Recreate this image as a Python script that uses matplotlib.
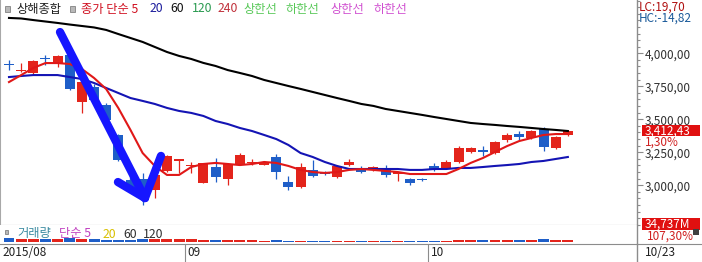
import numpy as np
import matplotlib
matplotlib.use("Agg")
import matplotlib.pyplot as plt
from matplotlib.patches import Rectangle
from matplotlib.lines import Line2D
from matplotlib.ticker import MultipleLocator

plt.rcParams['font.family'] = ['Noto Sans CJK KR', 'DejaVu Sans']

# 상해종합 일봉 (2015/08/11 ~ 2015/10/23)
dates = ["2015/08/11", "2015/08/12", "2015/08/13", "2015/08/14", "2015/08/17",
         "2015/08/18", "2015/08/19", "2015/08/20", "2015/08/21", "2015/08/24",
         "2015/08/25", "2015/08/26", "2015/08/27", "2015/08/28", "2015/08/31",
         "2015/09/01", "2015/09/02", "2015/09/07", "2015/09/08", "2015/09/09",
         "2015/09/10", "2015/09/11", "2015/09/14", "2015/09/15", "2015/09/16",
         "2015/09/17", "2015/09/18", "2015/09/21", "2015/09/22", "2015/09/23",
         "2015/09/24", "2015/09/25", "2015/09/28", "2015/09/29", "2015/09/30",
         "2015/10/08", "2015/10/09", "2015/10/12", "2015/10/13", "2015/10/14",
         "2015/10/15", "2015/10/16", "2015/10/19", "2015/10/20", "2015/10/21",
         "2015/10/22", "2015/10/23"]
opens = [3915, 3866, 3850, 3960, 3919, 3987, 3630, 3744, 3608, 3380,
         3040, 3047, 2965, 3106, 3187, 3145, 3020, 3137, 3045, 3160,
         3165, 3155, 3213, 3025, 2985, 3115, 3092, 3060, 3152, 3128,
         3115, 3130, 3088, 3045, 3042, 3145, 3130, 3175, 3250, 3266,
         3243, 3342, 3388, 3357, 3425, 3281, 3380]
highs = [3950, 3926, 3950, 3987, 3990, 4000, 3800, 3770, 3625, 3390,
         3137, 3092, 3085, 3232, 3198, 3175, 3172, 3205, 3165, 3243,
         3195, 3180, 3240, 3070, 3165, 3190, 3110, 3150, 3200, 3145,
         3145, 3150, 3100, 3055, 3055, 3165, 3190, 3300, 3290, 3295,
         3335, 3395, 3410, 3420, 3440, 3372, 3420]
lows = [3873, 3862, 3835, 3911, 3896, 3720, 3545, 3640, 3470, 3180,
        2952, 2851, 2906, 3100, 3090, 3090, 3015, 3025, 3000, 3155,
        3150, 3150, 3050, 2965, 2980, 3060, 3075, 3055, 3148, 3095,
        3110, 3065, 3030, 3005, 3030, 3105, 3125, 3170, 3245, 3225,
        3240, 3330, 3345, 3350, 3260, 3278, 3370]
closes = [3910, 3872, 3941, 3957, 3980, 3729, 3782, 3645, 3494, 3190,
          2965, 2927, 3080, 3220, 3191, 3150, 3165, 3062, 3160, 3228,
          3170, 3170, 3100, 2990, 3137, 3068, 3088, 3145, 3175, 3102,
          3137, 3076, 3092, 3015, 3038, 3114, 3175, 3281, 3281, 3250,
          3327, 3380, 3368, 3410, 3289, 3365, 3412.43]
volumes = [56000, 50000, 44000, 51000, 47000, 53000, 46000, 38000, 37000, 35000,
           33000, 42000, 39000, 45000, 40000, 38000, 35000, 24000, 24000, 30000,
           24000, 20000, 27000, 22000, 22000, 22000, 18000, 18000, 21000, 19000,
           16000, 17000, 14000, 13000, 12000, 22000, 23000, 33000, 28000, 28000,
           29000, 36000, 37000, 33000, 46000, 32374, 34737]
ma5 = [3782, 3835, 3889, 3926, 3926, 3919, 3881, 3813, 3729, 3585,
       3419, 3244, 3146, 3078, 3078, 3138, 3161, 3169, 3161, 3153,
       3161, 3176, 3169, 3146, 3116, 3100, 3093, 3100, 3116, 3123,
       3116, 3108, 3100, 3085, 3085, 3085, 3085, 3123, 3169, 3206,
       3252, 3297, 3335, 3358, 3381, 3388, 3388]
ma20 = [3820, 3828, 3835, 3835, 3835, 3820, 3805, 3775, 3737, 3699,
        3661, 3639, 3616, 3586, 3563, 3548, 3525, 3487, 3464, 3434,
        3411, 3381, 3350, 3305, 3244, 3214, 3176, 3146, 3123, 3123,
        3123, 3123, 3123, 3116, 3116, 3123, 3123, 3131, 3131, 3138,
        3146, 3153, 3161, 3176, 3184, 3199, 3214]
ma60 = [4268, 4264, 4252, 4241, 4230, 4218, 4207, 4196, 4177, 4146,
        4116, 4086, 4048, 4010, 3980, 3957, 3927, 3904, 3873, 3851,
        3828, 3798, 3775, 3752, 3730, 3707, 3684, 3661, 3639, 3616,
        3601, 3578, 3563, 3548, 3533, 3517, 3502, 3487, 3472, 3464,
        3457, 3449, 3442, 3434, 3426, 3419, 3411]
change_pct = 1.30
vol_change_pct = 107.30
lc_value, hc_value = 19.70, -14.82
yticks = [3000, 3250, 3500, 3750, 4000]

# 손으로 그린 화살표 (봉 번호, 지수)
arrow_shaft = [(4.2, 4161), (11.19, 2903)]
arrow_left = [(8.97, 3024), (11.19, 2903)]
arrow_right = [(12.51, 3222), (11.19, 2903)]

RED = '#e3241b'
BLUE = '#1e5ec8'
GRAY = '#8c8c8c'

W, H = 702, 262
fig = plt.figure(figsize=(W / 100, H / 100), dpi=100)


def fx(px):
    return px / W


def fy(py):
    return 1 - py / H


ax = fig.add_axes([0, fy(225), fx(637), 225 / H])
axv = fig.add_axes([0, fy(244), fx(637), 19 / H])
axl = fig.add_axes([0, 0, fx(637), 18 / H])

xlim = (-0.74, 51.69)
for a in (ax, axv, axl):
    a.set_xlim(*xlim)
    a.set_xticks([])
    for s in a.spines.values():
        s.set_visible(False)
    a.spines['right'].set_visible(True)
    a.spines['right'].set_color(GRAY)
    a.spines['right'].set_linewidth(1)

ax.set_ylim(2698.5, 4404)
ax.spines['left'].set_visible(True)
ax.spines['left'].set_color('#a8a8a8')
ax.spines['left'].set_linewidth(1.5)
ax.spines['bottom'].set_visible(True)
ax.spines['bottom'].set_color(GRAY)
ax.spines['bottom'].set_linewidth(0.8)

x = np.arange(len(dates))
o, h, l, c = map(np.array, (opens, highs, lows, closes))
col = np.where(c >= o, RED, BLUE)

# 캔들
ax.vlines(x, l, h, colors=col, lw=0.9, zorder=2)
ax.bar(x, np.maximum(np.abs(c - o), 9), bottom=np.minimum(o, c), width=0.82,
       color=col, linewidth=0, zorder=3)

# 이동평균
ax.plot(x, ma60, color='#000000', lw=1.5, zorder=4)
ax.plot(x, ma20, color='#1414b4', lw=1.5, zorder=4)
ax.plot(x, ma5, color='#e01818', lw=1.5, zorder=4)

# 화살표
for seg in (arrow_shaft, arrow_left, arrow_right):
    xs, ys = zip(*seg)
    ax.plot(xs, ys, color='#1616ff', lw=6, solid_capstyle='round', zorder=6)

# 오른쪽 가격 축
ax.yaxis.tick_right()
ax.set_yticks(yticks)
ax.set_yticklabels([f"{v:,.2f}".replace('.', ',') for v in yticks])
ax.yaxis.set_minor_locator(MultipleLocator(50))
ax.tick_params(axis='y', which='major', length=4, width=0.8, color=GRAY, pad=1.5,
               labelsize=8.5, labelcolor='#303030')
ax.tick_params(axis='y', which='minor', length=2.5, width=0.8, color=GRAY)

# 거래량
vmax = max(volumes)
axv.bar(x, volumes, width=0.9, color=col, linewidth=0)
axv.set_ylim(-vmax * 0.45, vmax * 4.3)
axv.set_yticks([])

# 날짜 축
month_prev = None
for i, d in enumerate(dates):
    yy, mm, dd = d.split('/')
    if mm != month_prev:
        if i == 0:
            pos, label = xlim[0], f"{yy}/{mm}"
        else:
            pos, label = i - 0.5, mm
            axl.axvline(pos, color=GRAY, lw=0.8)
        axl.text(pos + 0.22, 0.5, label, fontsize=8.5, color='#202020',
                 va='center', ha='left', transform=axl.get_xaxis_transform())
    month_prev = mm
axl.set_ylim(0, 1)
axl.set_yticks([])
last_m, last_d = dates[-1].split('/')[1:]
fig.text(fx(645), fy(253), f"{last_m}/{last_d}", fontsize=8.5, color='#202020',
         va='center', ha='left')

fig.add_artist(Line2D([0, 1], [fy(244), fy(244)], color=GRAY, lw=0.8))

# 상단 범례
fig.add_artist(Rectangle((fx(5), fy(12)), fx(5), 6 / H, facecolor='#b8b8b8',
                         edgecolor='#707070', lw=0.5))
fig.add_artist(Rectangle((fx(70), fy(12)), fx(5), 6 / H, facecolor='#b8b8b8',
                         edgecolor='#707070', lw=0.5))
legend_items = [("상해종합", '#202020', 16), ("종가 단순 5", '#d01020', 81),
                ("20", '#1c1c9c', 150), ("60", '#101010', 170),
                ("120", '#2a9a50', 192), ("240", '#c0303a', 218),
                ("상한선", '#58c858', 243), ("하한선", '#58c858', 286),
                ("상한선", '#d050d0', 330), ("하한선", '#d050d0', 373)]
for txt, color, px in legend_items:
    fig.text(fx(px), fy(9), txt, fontsize=8.8, color=color, va='center', ha='left')

# 거래량 범례
fig.add_artist(Rectangle((fx(5), fy(234)), fx(3), 4 / H, facecolor='#b8b8b8',
                         edgecolor='#707070', lw=0.5))
vol_items = [("거래량", '#3a8aa0', 17), ("단순 5", '#c040c0', 59),
             ("20", '#d8c000', 103), ("60", '#303030', 123), ("120", '#303030', 143)]
for txt, color, px in vol_items:
    fig.text(fx(px), fy(234), txt, fontsize=8.8, color=color, va='center', ha='left')

# 오른쪽 정보
fig.text(fx(639), fy(7), f"LC:{lc_value:.2f}".replace('.', ','), fontsize=8.5,
         color='#b01010', va='center', ha='left')
fig.text(fx(639), fy(18.5), f"HC:{hc_value:.2f}".replace('.', ','), fontsize=8.5,
         color='#1a5a9a', va='center', ha='left')

# 현재가 표시 (데이터 좌표 -> 그림 좌표)
last_y = fig.transFigure.inverted().transform(
    ax.transData.transform((0, closes[-1])))[1]
fig.add_artist(Rectangle((fx(642), last_y - 5.5 / H), fx(58), 11 / H,
                         facecolor='#e01010', edgecolor='none', zorder=5))
fig.text(fx(645), last_y, f"{closes[-1]:,.2f}".replace('.', ','), fontsize=8.5,
         color='white', va='center', ha='left', zorder=6)
fig.text(fx(645), last_y - 11.5 / H, f"{change_pct:.2f}%".replace('.', ','),
         fontsize=8.5, color='#d02020', va='center', ha='left', zorder=6)

fig.add_artist(Rectangle((fx(642), fy(230)), fx(58), 12 / H,
                         facecolor='#e01010', edgecolor='none'))
fig.text(fx(645), fy(224), f"{volumes[-1]:,}M", fontsize=8.5, color='white',
         va='center', ha='left')
fig.text(fx(647), fy(236), f"{vol_change_pct:.2f}%".replace('.', ','),
         fontsize=8.5, color='#d02020', va='center', ha='left')
fig.add_artist(Rectangle((fx(693), fy(235)), fx(6), 6 / H,
                         facecolor='#404040', edgecolor='none'))

fig.savefig("out.png", dpi=100)
